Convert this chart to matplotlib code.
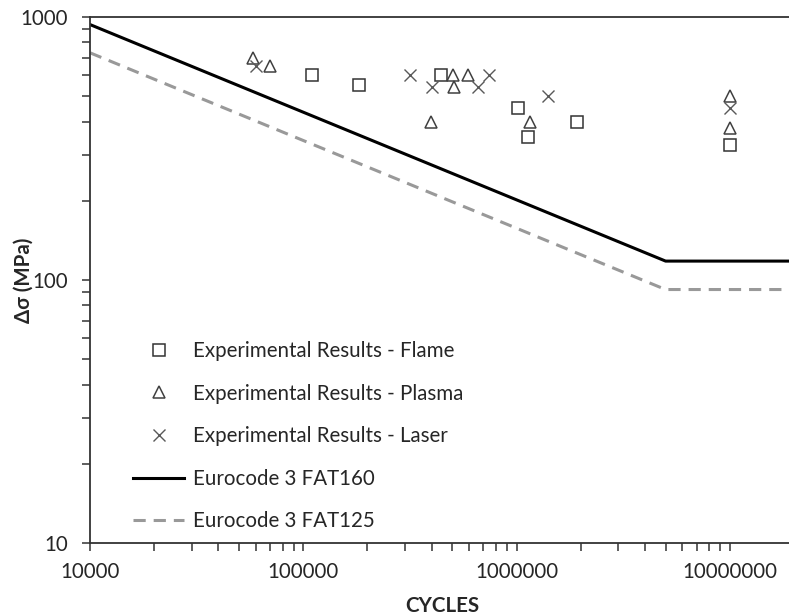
import matplotlib
matplotlib.use("Agg")
import matplotlib.pyplot as plt
from matplotlib.ticker import LogLocator, FixedLocator, NullFormatter

plt.rcParams['font.family'] = ['Lato', 'DejaVu Sans']

# experimental results (cycles, stress range MPa)
flame_n = [110000, 183000, 444000, 1020000, 1130000, 1930000, 10000000]
flame_s = [600, 550, 600, 450, 350, 400, 325]

plasma_n = [58000, 70000, 399000, 506000, 510000, 589000, 1160000, 10000000, 10000000]
plasma_s = [700, 650, 400, 600, 540, 600, 400, 500, 380]

laser_n = [60000, 315000, 403000, 663000, 739000, 1400000, 10000000]
laser_s = [650, 600, 540, 540, 600, 500, 450]

# Eurocode 3 curves (knee points)
ec_n = [10000, 5000000, 20000000]
fat160 = [936, 118, 118]
fat125 = [731, 92, 92]

FS = 14.8

fig = plt.figure(figsize=(7.89, 6.16), dpi=100)
ax = fig.add_axes([90/789, (616-543)/616, (794-90)/789, (543-17)/616])

ax.plot(flame_n, flame_s, ls='none', marker='s', ms=8.5, mfc='none',
        mec='#333333', mew=1.1, label='Experimental Results - Flame')
ax.plot(plasma_n, plasma_s, ls='none', marker='^', ms=9, mfc='none',
        mec='#404040', mew=1.1, label='Experimental Results - Plasma')
ax.plot(laser_n, laser_s, ls='none', marker='x', ms=9, mec='#595959',
        mew=1.0, label='Experimental Results - Laser')
ax.plot(ec_n, fat160, color='black', lw=2.2, label='Eurocode 3 FAT160')
ax.plot(ec_n, fat125, color='#999999', lw=2.2, dashes=(4, 2.6),
        label='Eurocode 3 FAT125')

ax.set_xscale('log')
ax.set_yscale('log')
ax.set_xlim(10000, 20000000)
ax.set_ylim(10, 1000)

ax.xaxis.set_major_locator(FixedLocator([1e4, 1e5, 1e6, 1e7]))
ax.xaxis.set_minor_locator(LogLocator(base=10, subs=range(2, 10)))
ax.yaxis.set_major_locator(FixedLocator([10, 100, 1000]))
ax.yaxis.set_minor_locator(LogLocator(base=10, subs=range(2, 10)))
ax.set_xticklabels(['10000', '100000', '1000000', '10000000'])
ax.set_yticklabels(['10', '100', '1000'])
ax.xaxis.set_minor_formatter(NullFormatter())
ax.yaxis.set_minor_formatter(NullFormatter())

ax.tick_params(which='both', direction='out', length=6, width=1.1,
               color='#333333', labelsize=FS, labelcolor='#262626')
ax.tick_params(axis='x', which='major', pad=8)
ax.tick_params(axis='y', which='major', pad=10)

for s in ax.spines.values():
    s.set_color('#333333')
    s.set_linewidth(1.3)

ax.set_xlabel('CYCLES', fontsize=FS, fontweight='bold', color='#262626')
ax.set_ylabel('\u0394\u03c3 (MPa)', fontsize=FS, fontweight='bold',
              color='#262626')
ax.xaxis.set_label_coords(0.5, -0.1)
ax.yaxis.set_label_coords(-0.08, 0.5)

ax.legend(loc='upper left', bbox_to_anchor=(133/789, 1 - 341/616),
          bbox_transform=fig.transFigure, frameon=False, fontsize=FS,
          handlelength=2.5, handletextpad=0.4, labelspacing=1.1,
          borderpad=0, borderaxespad=0, labelcolor='#262626')

fig.savefig('out.png', dpi=100)
